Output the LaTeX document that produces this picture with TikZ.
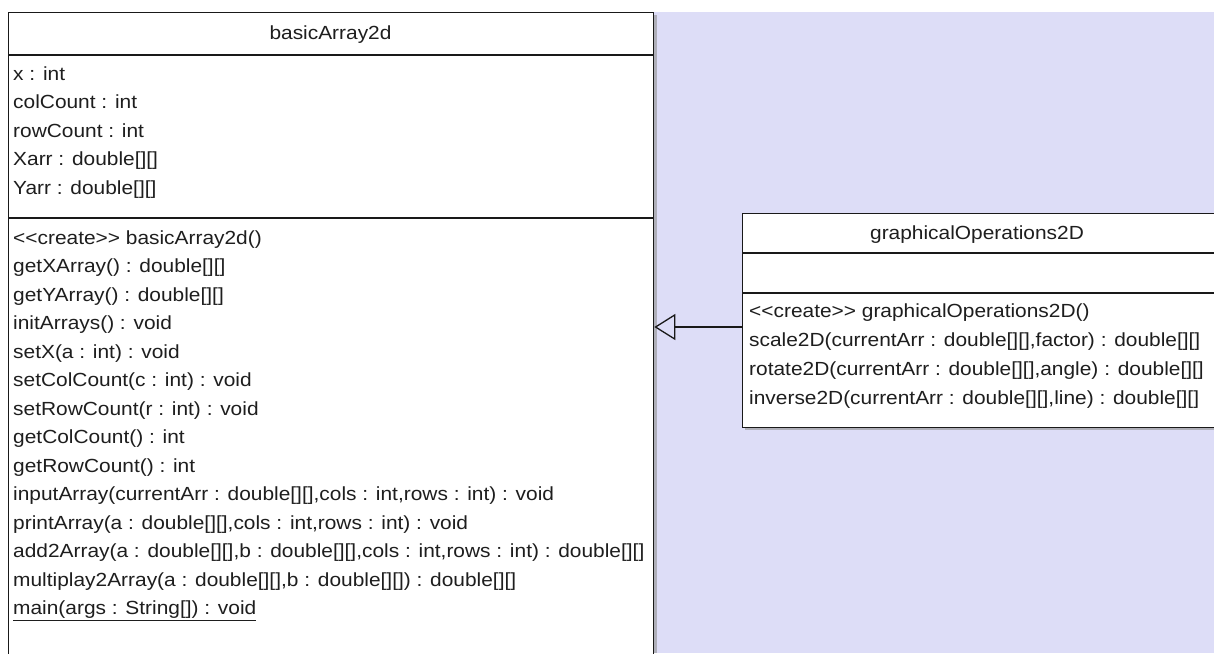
\documentclass[tikz,border=0pt]{standalone}
\usepackage{fontspec}
\setmainfont{Liberation Sans}
\usepackage{graphicx}
\usetikzlibrary{arrows.meta}
\definecolor{lav}{RGB}{221,221,247}
\definecolor{edgec}{RGB}{25,25,25}
\definecolor{txtc}{RGB}{30,30,30}
\definecolor{shadowc}{RGB}{175,175,185}
\newcommand{\umltxt}[1]{\scalebox{1.1}[1]{#1}}
\tikzset{
  umlbox/.style={draw=edgec, line width=1.3pt, fill=white, rectangle, inner sep=0pt, anchor=north west},
  member/.style={anchor=base west, inner sep=0pt, text=txtc, font=\fontsize{19}{23}\selectfont},
  ctitle/.style={anchor=base, inner sep=0pt, text=txtc, font=\fontsize{19}{23}\selectfont},
  divider/.style={draw=edgec, line width=1.3pt},
  gen/.style={-{Triangle[open, length=21pt, width=26pt]}, draw=edgec, line width=1.3pt}
}
\begin{document}
\begin{tikzpicture}[x=1pt,y=-1pt]
\useasboundingbox (0,0) rectangle (1214,653);
\clip (0,0) rectangle (1214,653);
\fill[white] (0,0) rectangle (1214,653);
\fill[lav] (654,12) rectangle (1214,653);
% shadows
\fill[shadowc] (653,15) rectangle (657,653);
\fill[shadowc] (745,427) rectangle (1222,430);
% class basicArray2d
\node[umlbox, minimum width=645pt, minimum height=700pt] (A) at (8,12) {};
\draw[divider] (8,55) -- (653,55);
\draw[divider] (8,218) -- (653,218);
\node[ctitle] (At) at (330.5,39.5) {\umltxt{basicArray2d}};
\node[member] (a1) at (13,80) {\umltxt{x : int}};
\node[member] (a2) at (13,108.5) {\umltxt{colCount : int}};
\node[member] (a3) at (13,137) {\umltxt{rowCount : int}};
\node[member] (a4) at (13,165.5) {\umltxt{Xarr : double[][]}};
\node[member] (a5) at (13,194) {\umltxt{Yarr : double[][]}};
\node[member] (m1) at (13,244) {\umltxt{<{}<create>{}> basicArray2d()}};
\node[member] (m2) at (13,272.5) {\umltxt{getXArray() : double[][]}};
\node[member] (m3) at (13,301) {\umltxt{getYArray() : double[][]}};
\node[member] (m4) at (13,329.5) {\umltxt{initArrays() : void}};
\node[member] (m5) at (13,358) {\umltxt{setX(a : int) : void}};
\node[member] (m6) at (13,386.5) {\umltxt{setColCount(c : int) : void}};
\node[member] (m7) at (13,415) {\umltxt{setRowCount(r : int) : void}};
\node[member] (m8) at (13,443.5) {\umltxt{getColCount() : int}};
\node[member] (m9) at (13,472) {\umltxt{getRowCount() : int}};
\node[member] (m10) at (13,500.5) {\umltxt{inputArray(currentArr : double[][],cols : int,rows : int) : void}};
\node[member] (m11) at (13,529) {\umltxt{printArray(a : double[][],cols : int,rows : int) : void}};
\node[member] (m12) at (13,557.5) {\umltxt{add2Array(a : double[][],b : double[][],cols : int,rows : int) : double[][]}};
\node[member] (m13) at (13,586) {\umltxt{multiplay2Array(a : double[][],b : double[][]) : double[][]}};
\node[member] (m14) at (13,614.5) {\umltxt{\underline{main(args : String[]) : void}}};
% class graphicalOperations2D
\node[umlbox, minimum width=480pt, minimum height=214pt] (B) at (742,213) {};
\draw[divider] (742,253) -- (1222,253);
\draw[divider] (742,293) -- (1222,293);
\node[ctitle] (Bt) at (977,239.5) {\umltxt{graphicalOperations2D}};
\node[member] (b1) at (749,317) {\umltxt{<{}<create>{}> graphicalOperations2D()}};
\node[member] (b2) at (749,346) {\umltxt{scale2D(currentArr : double[][],factor) : double[][]}};
\node[member] (b3) at (749,375) {\umltxt{rotate2D(currentArr : double[][],angle) : double[][]}};
\node[member] (b4) at (749,404) {\umltxt{inverse2D(currentArr : double[][],line) : double[][]}};
% generalization
\coordinate (lvl) at (0,327);
\draw[gen] (B.west |- lvl) -- (A.east |- lvl);
\end{tikzpicture}
\end{document}
